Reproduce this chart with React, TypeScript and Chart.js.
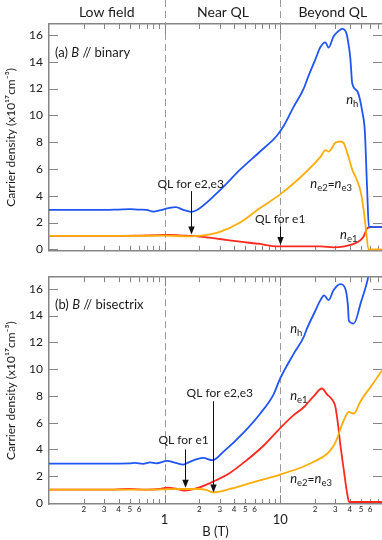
import React, { useEffect, useRef } from 'react';
import { Chart, registerables } from 'chart.js';

Chart.register(...registerables);

const FAMILY = 'Lato, "DejaVu Sans", sans-serif';
const TEXT = '#1a1a1a';
const AXIS = '#858585';
const BLUE = '#2155f2';
const ORANGE = '#ffad0a';
const RED = '#ff2a1f';

// ---- axes ----
const X_MIN = 0.1;
const X_MAX = 76;
const xTickValues = [
  0.1, 0.2, 0.3, 0.4, 0.5, 0.6, 0.7, 0.8, 0.9,
  1, 2, 3, 4, 5, 6, 7, 8, 9,
  10, 20, 30, 40, 50, 60, 70,
];
const xTickLabels = [
  '', '2', '3', '4', '5', '6', '', '', '',
  '1', '2', '3', '4', '5', '6', '', '', '',
  '10', '2', '3', '4', '5', '6', '',
];
const xMajorTicks = [0.1, 1, 10];
const yTicks = [0, 2, 4, 6, 8, 10, 12, 14, 16];
const yTitle = 'Carrier density (x10¹⁷cm⁻³)';
const xTitle = 'B (T)';
const regionNames = ['Low field', 'Near QL', 'Beyond QL'];
const regionCentres = [0.316, 3.2, 28.5];
const boundaryFields = [1, 10];

// ---- panel (a) B // binary ----
const aHoles: [number, number][] = [
  [0.1, 2.95], [0.2, 2.95], [0.3, 2.94], [0.4, 2.97], [0.5, 3.0], [0.6, 2.96], [0.7, 2.94],
  [0.8, 2.82], [0.9, 2.9], [1.05, 3.05], [1.25, 3.15], [1.45, 2.95], [1.7, 2.8], [2.0, 3.05],
  [3.0, 4.4], [4.5, 5.95], [6.7, 7.3], [9.4, 8.5], [10.7, 9.2], [13, 10.6], [15.9, 11.95],
  [17.5, 12.9], [20, 14.1], [22.3, 15.1], [24.6, 15.45], [26.2, 15.05], [29, 15.9], [32, 16.3],
  [34.4, 16.45], [37.5, 16.1], [39.5, 15.0], [40.5, 14.2], [42, 12.4], [46.5, 11.8], [51.5, 10.2],
  [54, 8.8], [56.5, 4.5], [58.5, 1.7], [76, 1.65],
];
const aElectrons23: [number, number][] = [
  [0.1, 1.0], [0.3, 1.0], [0.5, 1.0], [1.0, 1.02], [1.7, 0.97], [2.0, 1.0], [3.0, 1.3],
  [4.5, 2.0], [6.7, 3.08], [10, 4.1], [14.9, 5.36], [22.3, 6.9], [24.6, 7.4], [26.2, 7.3],
  [30, 7.95], [33, 8.05], [35.6, 7.9], [38, 7.2], [39.3, 6.8], [42, 5.95], [46.5, 5.1],
  [50, 4.2], [53, 2.8], [55.5, 1.3], [58, 0.0], [76, 0.0],
];
const aElectron1: [number, number][] = [
  [0.1, 1.0], [0.3, 1.0], [0.6, 1.03], [0.9, 1.06], [1.1, 1.08], [1.4, 1.03], [1.7, 1.0],
  [2.0, 0.95], [3.0, 0.77], [4.5, 0.57], [6.7, 0.4], [9.4, 0.22], [14.9, 0.22], [22.3, 0.22],
  [29, 0.15], [35, 0.2], [40.5, 0.33], [47, 0.55], [50, 0.72], [53, 1.0], [57, 1.6], [62, 1.65],
  [76, 1.65],
];

// ---- panel (b) B // bisectrix ----
const bHoles: [number, number][] = [
  [0.1, 2.95], [0.3, 2.95], [0.5, 2.97], [0.55, 3.0], [0.65, 2.93], [0.75, 3.03], [0.85, 2.97],
  [1.05, 3.15], [1.25, 3.0], [1.45, 2.87], [1.65, 3.08], [2.15, 3.37], [2.6, 3.2], [3.2, 3.8],
  [4.8, 5.24], [6.7, 6.67], [8.75, 8.1], [10, 9.3], [13, 11.1], [16, 12.4], [17, 13.0],
  [20, 14.3], [22.3, 15.15], [24, 15.5], [26.2, 15.15], [29, 15.9], [33, 16.35], [36.6, 16.0],
  [38.5, 14.8], [39.3, 13.6], [43.3, 13.4], [50, 15.0], [56.8, 16.6], [60, 17.6],
];
const bElectron1: [number, number][] = [
  [0.1, 1.0], [0.3, 1.0], [0.5, 1.05], [0.7, 1.0], [0.9, 1.05], [1.05, 1.15], [1.25, 1.08],
  [1.49, 0.93], [2.0, 1.17], [2.63, 1.6], [3.67, 2.25], [5.13, 3.2], [7.17, 4.28], [10, 5.6],
  [13, 6.55], [16, 7.15], [19.5, 7.98], [23, 8.55], [25.5, 8.1], [28, 7.75], [30, 7.2],
  [31.5, 6.0], [33, 4.5], [35.6, 2.4], [38, 0.7], [39.5, 0.08], [76, 0.08],
];
const bElectrons23: [number, number][] = [
  [0.1, 1.0], [0.5, 1.0], [1.0, 1.02], [1.35, 1.05], [2.0, 1.05], [2.25, 1.0], [2.63, 0.8],
  [3.67, 1.05], [5.13, 1.41], [7.17, 1.77], [10, 2.13], [16, 2.73], [19.5, 3.08], [25.5, 3.68],
  [29, 4.28], [31, 4.8], [33, 5.47], [36, 6.3], [39.3, 6.8], [43.3, 6.67], [49.5, 7.6],
  [64.5, 9.0], [71, 9.54], [76, 9.9],
];

// ---- annotations (field, density) ----
type Run = { t: string; size: number; italic?: boolean; dy?: number };
const nLabel = (sub: string): Run[] => [
  { t: 'n', size: 13, italic: true },
  { t: sub, size: 9.5, dy: 3 },
];
const eqLabel: Run[] = [...nLabel('e2'), { t: '=', size: 12 }, ...nLabel('e3')];

interface Note { runs: Run[]; x: number; y: number; align: 'left' | 'center' }
interface Arrow { x: number; from: number; to: number }

const aNotes: Note[] = [
  { runs: [{ t: 'QL for e2,e3', size: 12 }], x: 1.68, y: 4.91, align: 'center' },
  { runs: [{ t: 'QL for e1', size: 12 }], x: 10, y: 2.28, align: 'center' },
  { runs: nLabel('h'), x: 37.2, y: 11.15, align: 'left' },
  { runs: eqLabel, x: 18.2, y: 4.91, align: 'left' },
  { runs: nLabel('e1'), x: 33, y: 1.09, align: 'left' },
];
const aArrows: Arrow[] = [
  { x: 1.68, from: 4.34, to: 1.11 },
  { x: 10, from: 1.69, to: 0.32 },
];
const bNotes: Note[] = [
  { runs: [{ t: 'QL for e2,e3', size: 12 }], x: 3.0, y: 8.18, align: 'center' },
  { runs: [{ t: 'QL for e1', size: 12 }], x: 1.46, y: 4.68, align: 'center' },
  { runs: nLabel('h'), x: 12.2, y: 13.0, align: 'left' },
  { runs: nLabel('e1'), x: 12.2, y: 7.98, align: 'left' },
  { runs: eqLabel, x: 12.2, y: 1.77, align: 'left' },
];
const bArrows: Arrow[] = [
  { x: 2.62, from: 7.6, to: 0.79 },
  { x: 1.49, from: 4.0, to: 1.15 },
];

const aTag: Run[] = [{ t: '(a) ', size: 13 }, { t: 'B', size: 13, italic: true }, { t: ' // binary', size: 13 }];
const bTag: Run[] = [{ t: '(b) ', size: 13 }, { t: 'B', size: 13, italic: true }, { t: ' // bisectrix', size: 13 }];

interface PanelSpec {
  height: number;
  topH: number;
  bottomH: number;
  yMin: number;
  yMax: number;
  series: { points: [number, number][]; color: string }[];
  tag: Run[];
  tagDy: number;
  notes: Note[];
  arrows: Arrow[];
  header: boolean;
  xLabels: boolean;
}

const panelA: PanelSpec = {
  height: 264, topH: 24, bottomH: 4, yMin: -0.11, yMax: 16.82,
  series: [
    { points: aHoles, color: BLUE },
    { points: aElectrons23, color: ORANGE },
    { points: aElectron1, color: RED },
  ],
  tag: aTag, tagDy: 29, notes: aNotes, arrows: aArrows, header: true, xLabels: false,
};
const panelB: PanelSpec = {
  height: 276, topH: 4, bottomH: 36, yMin: -0.07, yMax: 16.86,
  series: [
    { points: bHoles, color: BLUE },
    { points: bElectrons23, color: ORANGE },
    { points: bElectron1, color: RED },
  ],
  tag: bTag, tagDy: 28, notes: bNotes, arrows: bArrows, header: false, xLabels: true,
};

const fontOf = (r: Run) => `${r.italic ? 'italic ' : ''}${r.size}px ${FAMILY}`;

function drawRuns(ctx: CanvasRenderingContext2D, runs: Run[], x: number, midY: number, align: 'left' | 'center') {
  const widths = runs.map((r) => {
    ctx.font = fontOf(r);
    return ctx.measureText(r.t).width;
  });
  const total = widths.reduce((a, b) => a + b, 0);
  let cx = align === 'center' ? x - total / 2 : x;
  const base = midY + 4;
  ctx.textAlign = 'left';
  ctx.textBaseline = 'alphabetic';
  runs.forEach((r, i) => {
    ctx.font = fontOf(r);
    ctx.fillText(r.t, cx, base + (r.dy || 0));
    cx += widths[i];
  });
}

function decor(p: PanelSpec) {
  return {
    id: 'decor',
    beforeDatasetsDraw(chart: any) {
      const { ctx, chartArea: a } = chart;
      const xs = chart.scales.xb;
      const ys = chart.scales.y;
      ctx.save();
      // boundaries between field regions
      ctx.strokeStyle = '#9a9a9a';
      ctx.lineWidth = 1;
      ctx.setLineDash([7, 4]);
      boundaryFields.forEach((b) => {
        const px = Math.round(xs.getPixelForValue(b)) + 0.5;
        ctx.beginPath();
        ctx.moveTo(px, p.header ? 0 : a.top);
        ctx.lineTo(px, a.bottom);
        ctx.stroke();
      });
      ctx.setLineDash([]);
      // inward tick marks on all four sides
      ctx.strokeStyle = AXIS;
      ctx.beginPath();
      xTickValues.forEach((v) => {
        if (v <= X_MIN) return;
        const len = xMajorTicks.includes(v) ? 9 : 5;
        const px = Math.round(xs.getPixelForValue(v)) + 0.5;
        ctx.moveTo(px, a.bottom);
        ctx.lineTo(px, a.bottom - len);
        ctx.moveTo(px, a.top);
        ctx.lineTo(px, a.top + len);
      });
      yTicks.forEach((v) => {
        const py = Math.round(ys.getPixelForValue(v)) + 0.5;
        ctx.moveTo(a.left, py);
        ctx.lineTo(a.left + 9, py);
        ctx.moveTo(a.right, py);
        ctx.lineTo(a.right - 9, py);
      });
      ctx.stroke();
      ctx.restore();
    },
    afterDraw(chart: any) {
      const { ctx, chartArea } = chart;
      const xs = chart.scales.xb;
      const ys = chart.scales.y;
      ctx.save();
      ctx.fillStyle = TEXT;
      if (p.header) {
        ctx.font = `14px ${FAMILY}`;
        ctx.textAlign = 'center';
        ctx.textBaseline = 'middle';
        regionNames.forEach((n, i) => ctx.fillText(n, xs.getPixelForValue(regionCentres[i]), 12));
      }
      drawRuns(ctx, p.tag, chartArea.left + 6, chartArea.top + p.tagDy, 'left');
      p.notes.forEach((n) => drawRuns(ctx, n.runs, xs.getPixelForValue(n.x), ys.getPixelForValue(n.y), n.align));
      ctx.strokeStyle = '#111';
      ctx.fillStyle = '#111';
      ctx.lineWidth = 1;
      p.arrows.forEach((ar) => {
        const px = Math.round(xs.getPixelForValue(ar.x)) + 0.5;
        const y1 = ys.getPixelForValue(ar.from);
        const y2 = ys.getPixelForValue(ar.to);
        ctx.beginPath();
        ctx.moveTo(px, y1);
        ctx.lineTo(px, y2 - 6);
        ctx.stroke();
        ctx.beginPath();
        ctx.moveTo(px, y2);
        ctx.lineTo(px - 3.2, y2 - 8);
        ctx.lineTo(px + 3.2, y2 - 8);
        ctx.closePath();
        ctx.fill();
      });
      ctx.restore();
    },
  };
}

const setTicks = (vals: number[]) => (s: any) => {
  s.ticks = vals.map((v) => ({ value: v }));
};

function buildConfig(p: PanelSpec): any {
  const noGrid = { drawOnChartArea: false, drawTicks: false, tickLength: 0 };
  const border = { display: true, color: AXIS, width: 1.5 };
  const xb: any = {
    type: 'logarithmic',
    position: 'bottom',
    min: X_MIN,
    max: X_MAX,
    afterBuildTicks: setTicks(xTickValues),
    afterFit: (s: any) => {
      s.height = p.bottomH;
    },
    grid: noGrid,
    border,
    ticks: { display: false },
  };
  if (p.xLabels) {
    xb.ticks = {
      display: true,
      autoSkip: false,
      maxRotation: 0,
      minRotation: 0,
      padding: 1,
      color: TEXT,
      font: (c: any) =>
        c.tick && xMajorTicks.includes(c.tick.value)
          ? { family: FAMILY, size: 13, lineHeight: 2.25 }
          : { family: FAMILY, size: 8, lineHeight: 1.2 },
      callback: (_v: number, i: number) => xTickLabels[i],
    };
    xb.title = { display: true, text: xTitle, color: TEXT, font: { family: FAMILY, size: 13 }, padding: { top: 0, bottom: 0 } };
  }
  return {
    type: 'line',
    data: {
      datasets: p.series.map((s) => ({
        data: s.points.map(([x, y]) => ({ x, y })),
        borderColor: s.color,
        backgroundColor: s.color,
        borderWidth: 1.8,
        pointRadius: 0,
        fill: false,
        cubicInterpolationMode: 'monotone',
        xAxisID: 'xb',
        yAxisID: 'y',
      })),
    },
    options: {
      responsive: false,
      maintainAspectRatio: false,
      animation: false,
      events: [],
      layout: { padding: 0, autoPadding: false },
      plugins: { legend: { display: false }, tooltip: { enabled: false } },
      scales: {
        xt: {
          type: 'logarithmic',
          position: 'top',
          min: X_MIN,
          max: X_MAX,
          afterBuildTicks: setTicks(xTickValues),
          afterFit: (s: any) => {
            s.height = p.topH;
          },
          grid: noGrid,
          border,
          ticks: { display: false },
        },
        xb,
        y: {
          type: 'linear',
          position: 'left',
          min: p.yMin,
          max: p.yMax,
          afterBuildTicks: setTicks(yTicks),
          afterFit: (s: any) => {
            s.width = 49;
          },
          grid: noGrid,
          border,
          ticks: {
            display: true,
            padding: 6,
            color: TEXT,
            font: { family: FAMILY, size: 12 },
            callback: (v: number) => String(v),
          },
          title: {
            display: true,
            text: yTitle,
            color: TEXT,
            font: { family: FAMILY, size: 12 },
            padding: { top: 4, bottom: 0 },
          },
        },
      },
    },
    plugins: [decor(p)],
  };
}

function Panel({ spec, top }: { spec: PanelSpec; top: number }) {
  const ref = useRef<HTMLCanvasElement>(null);
  useEffect(() => {
    const chart = new Chart(ref.current as HTMLCanvasElement, buildConfig(spec));
    return () => chart.destroy();
  }, [spec]);
  return (
    <canvas
      ref={ref}
      width={382}
      height={spec.height}
      style={{ position: 'absolute', left: 0, top, width: 382, height: spec.height }}
    />
  );
}

export default function App() {
  return (
    <div style={{ position: 'absolute', left: 0, top: 0, width: 382, height: 540, background: '#fff', overflow: 'hidden' }}>
      <Panel spec={panelA} top={0} />
      <Panel spec={panelB} top={panelA.height} />
    </div>
  );
}
